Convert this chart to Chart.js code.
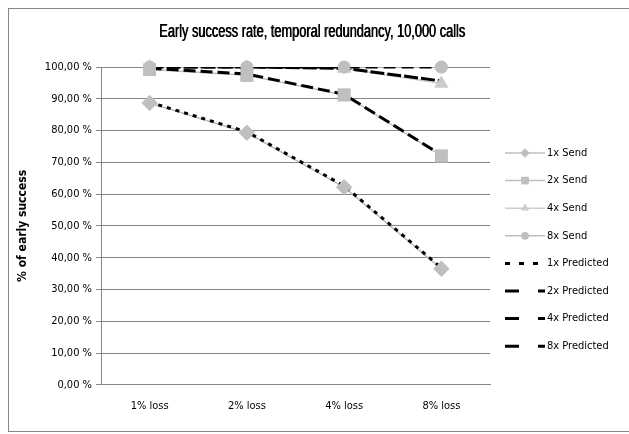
<!DOCTYPE html>
<html>
<head>
<meta charset="utf-8">
<script src="https://cdn.jsdelivr.net/npm/chart.js@4.4.0/dist/chart.umd.min.js"></script>
<style>
  html, body { margin: 0; padding: 0; background: #fff; }
  #wrap { position: relative; width: 629px; height: 434px; }
</style>
</head>
<body>
<div id="wrap"><canvas id="chart-redundancy"></canvas></div>
<script>
// data (percent)
const LOSS_LABELS = ["1% loss", "2% loss", "4% loss", "8% loss"];

const SEND_1X = [88.7, 79.3, 62.2, 36.5];
const SEND_2X = [99.2, 97.4, 91.2, 72.0];
const SEND_4X = [100.0, 100.0, 99.5, 94.8];
const SEND_8X = [100.0, 100.0, 100.0, 100.0];

const PRED_1X = [88.9, 79.6, 62.6, 36.8];
const PRED_2X = [99.6, 97.8, 91.4, 72.3];
const PRED_4X = [100.0, 100.0, 99.6, 95.6];
const PRED_8X = [100.0, 100.0, 100.0, 100.0];

const TITLE     = "Early success rate, temporal redundancy, 10,000 calls";
const FONT      = "'DejaVu Sans Condensed', 'Liberation Sans', sans-serif";
const GRID_GRAY = "#868686";
const TEXT      = "#000000";

const fmtPct = v => v.toFixed(2).replace(".", ",") + " %";

function sendSet(label, data, color, style, radius) {
  return {
    label, data,
    borderColor: color,
    backgroundColor: color,
    borderWidth: 1.5,
    pointStyle: style,
    pointRadius: radius,
    pointBorderWidth: 0,
    order: 2,
  };
}

function predSet(label, data, dash) {
  return {
    label, data,
    borderColor: "#000000",
    backgroundColor: "#000000",
    borderWidth: 3,
    borderDash: dash,
    pointRadius: 0,
    order: 1,
  };
}

// frame round the whole chart + the (narrow) title
const framePlugin = {
  id: "frame",
  beforeDraw(chart) {
    const { ctx } = chart;
    ctx.save();
    ctx.fillStyle = "#fff";
    ctx.fillRect(0, 0, chart.width, chart.height);
    ctx.strokeStyle = GRID_GRAY;
    ctx.lineWidth = 1;
    ctx.strokeRect(8.5, 8.5, 640, 423);
    ctx.fillStyle = TEXT;
    ctx.font = `18px 'Liberation Sans', sans-serif`;
    ctx.textAlign = "center";
    ctx.textBaseline = "middle";
    ctx.fillText(TITLE, 312, 32, 306);
    ctx.fillText(TITLE, 312.6, 32, 306);
    ctx.restore();
  },
};

// markers sit above the black predicted lines
const markersOnTop = {
  id: "markersOnTop",
  afterDatasetsDraw(chart) {
    const { ctx, chartArea } = chart;
    chart.data.datasets.forEach((ds, i) => {
      if (!ds.pointRadius) return;
      chart.getDatasetMeta(i).data.forEach(pt => pt.draw(ctx, chartArea));
    });
  },
};

function legendDash(d) {
  return d[0] < 6 ? [5, 9] : [14, 19];
}

// Excel-like legend on the right: line sample with marker in the middle
const sideLegend = {
  id: "sideLegend",
  afterDraw(chart) {
    const { ctx } = chart;
    const x0 = 505, x1 = 545, y0 = 153, step = 27.6;
    ctx.save();
    chart.data.datasets.forEach((ds, i) => {
      const y = y0 + i * step;
      ctx.strokeStyle = ds.borderColor;
      ctx.lineWidth = ds.borderWidth;
      ctx.setLineDash(ds.borderDash ? legendDash(ds.borderDash) : []);
      ctx.beginPath();
      ctx.moveTo(x0, y);
      ctx.lineTo(x1, y);
      ctx.stroke();
      ctx.setLineDash([]);
      if (ds.pointRadius) {
        ctx.fillStyle = ds.backgroundColor;
        Chart.helpers.drawPoint(ctx, {
          pointStyle: ds.pointStyle,
          radius: ds.pointRadius * 0.6,
          borderWidth: 0,
          rotation: 0,
        }, (x0 + x1) / 2, y);
      }
      ctx.fillStyle = TEXT;
      ctx.font = `11px ${FONT}`;
      ctx.textBaseline = "middle";
      ctx.fillText(ds.label, x1 + 2, y);
    });
    ctx.restore();
  },
};

new Chart(document.getElementById("chart-redundancy"), {
  type: "line",
  plugins: [framePlugin, markersOnTop, sideLegend],
  data: {
    labels: LOSS_LABELS,
    datasets: [
      sendSet("1x Send", SEND_1X, "#bfbfbf", "rectRot", 8),
      sendSet("2x Send", SEND_2X, "#bfbfbf", "rect", 9),
      sendSet("4x Send", SEND_4X, "#cccccc", "triangle", 8),
      sendSet("8x Send", SEND_8X, "#bfbfbf", "circle", 6.5),
      predSet("1x Predicted", PRED_1X, [4, 5]),
      predSet("2x Predicted", PRED_2X, [12, 5]),
      predSet("4x Predicted", PRED_4X, [14, 3]),
      predSet("8x Predicted", PRED_8X, [12, 6]),
    ],
  },
  options: {
    responsive: true,
    maintainAspectRatio: false,
    animation: false,
    layout: { padding: { left: 16, right: 139, top: 67, bottom: 14 } },
    plugins: {
      legend: { display: false },
      tooltip: { enabled: false },
      title: { display: false },
    },
    scales: {
      x: {
        offset: true,
        grid: { display: false },
        border: { display: true, color: GRID_GRAY, width: 1 },
        ticks: { color: TEXT, font: { family: FONT, size: 11 }, padding: 7 },
      },
      y: {
        min: 0,
        max: 100,
        afterFit(scale) { scale.width = 85; },
        ticks: {
          stepSize: 10,
          color: TEXT,
          font: { family: FONT, size: 11 },
          padding: 4,
          callback: v => fmtPct(v),
        },
        grid: { color: GRID_GRAY, tickLength: 5 },
        border: { display: true, color: GRID_GRAY },
        title: {
          display: true,
          text: "% of early success",
          color: TEXT,
          font: { family: FONT, size: 12, weight: "bold" },
          padding: 0,
        },
      },
    },
  },
});
</script>
</body>
</html>
